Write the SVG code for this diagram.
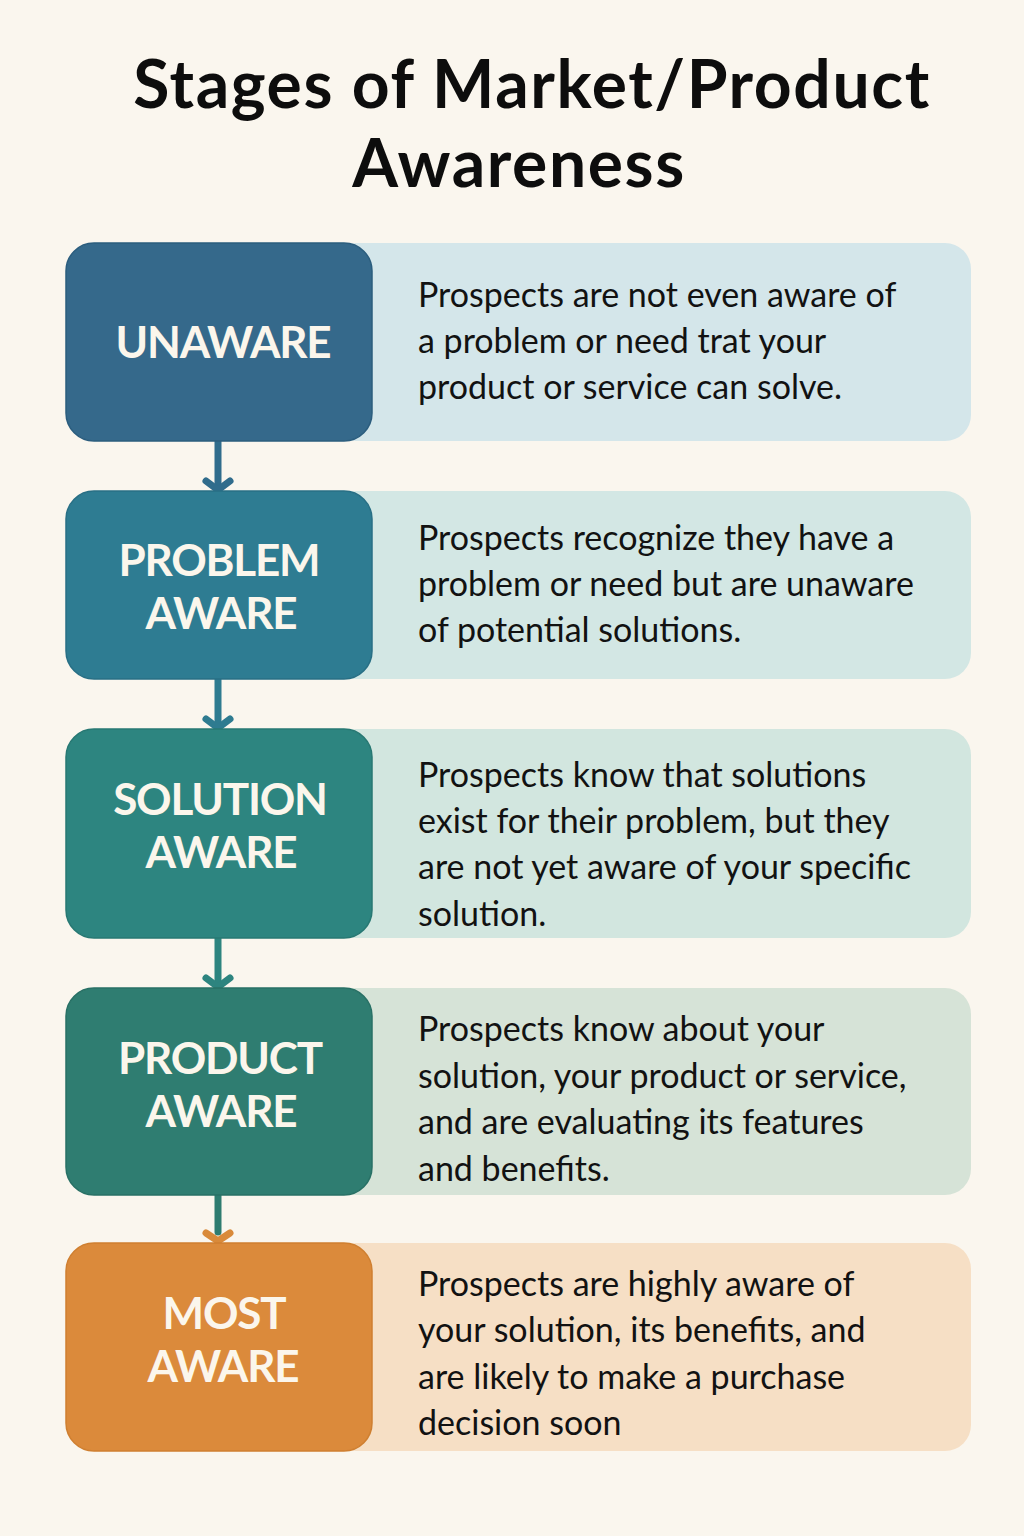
<svg xmlns="http://www.w3.org/2000/svg" width="1024" height="1536" viewBox="0 0 1024 1536">
<style>
.title{font-family:Lato,"Noto Sans",sans-serif;font-weight:700;font-size:66px;letter-spacing:1.6px;fill:#0d0d0d;text-anchor:middle}
.lbl{font-family:Lato,"Noto Sans",sans-serif;font-weight:700;font-size:44px;letter-spacing:-1.2px;fill:#fbf6ec;text-anchor:middle}
.desc{font-family:Lato,"Noto Sans",sans-serif;font-size:34px;fill:#121212}
.box{stroke-width:1.5}
.conn{fill:none;stroke-width:7;stroke-linecap:round;stroke-linejoin:round}
</style>
<rect width="1024" height="1536" fill="#faf6ee"/>
<g id="title">
<text class="title" x="532" y="108">Stages of Market/Product</text>
<text class="title" x="519" y="187">Awareness</text>
</g>
<g id="connectors">
<line class="conn" x1="218" y1="441" x2="218" y2="488" stroke="#306c8c"/>
<polyline class="conn" points="206,481 218,490 230,481" stroke="#306c8c"/>
<line class="conn" x1="218" y1="679" x2="218" y2="726" stroke="#2e7b90"/>
<polyline class="conn" points="206,719 218,728 230,719" stroke="#2e7b90"/>
<line class="conn" x1="218" y1="938" x2="218" y2="985" stroke="#2d847f"/>
<polyline class="conn" points="206,978 218,987 230,978" stroke="#2d847f"/>
<line class="conn" x1="218" y1="1195" x2="218" y2="1232" stroke="#2e7c70"/>
<polyline class="conn" points="206,1233 218,1241 230,1233" stroke="#d98a3a"/>
</g>
<g id="unaware">
<rect x="330" y="243" width="641" height="198" rx="26" fill="#d4e6ea"/>
<rect class="box" x="66" y="243" width="306" height="198" rx="28" fill="#35698b" stroke="#2b5d7e"/>
<text class="lbl" x="223" y="358">UNAWARE</text>
<text class="desc"><tspan x="418" y="307">Prospects are not even aware of</tspan><tspan x="418" y="353">a problem or need trat your</tspan><tspan x="418" y="399">product or service can solve.</tspan></text>
</g>
<g id="problem-aware">
<rect x="330" y="491" width="641" height="188" rx="26" fill="#d3e7e4"/>
<rect class="box" x="66" y="491" width="306" height="188" rx="28" fill="#2e7c92" stroke="#286f85"/>
<text class="lbl" x="219" y="576">PROBLEM</text>
<text class="lbl" x="221" y="629">AWARE</text>
<text class="desc"><tspan x="418" y="550">Prospects recognize they have a</tspan><tspan x="418" y="596">problem or need but are unaware</tspan><tspan x="418" y="642">of potential solutions.</tspan></text>
</g>
<g id="solution-aware">
<rect x="330" y="729" width="641" height="209" rx="26" fill="#d2e6df"/>
<rect class="box" x="66" y="729" width="306" height="209" rx="28" fill="#2d8580" stroke="#277873"/>
<text class="lbl" x="220" y="815">SOLUTION</text>
<text class="lbl" x="221" y="868">AWARE</text>
<text class="desc"><tspan x="418" y="787">Prospects know that solutions</tspan><tspan x="418" y="833">exist for their problem, but they</tspan><tspan x="418" y="879">are not yet aware of your specific</tspan><tspan x="418" y="926">solution.</tspan></text>
</g>
<g id="product-aware">
<rect x="330" y="988" width="641" height="207" rx="26" fill="#d6e3d7"/>
<rect class="box" x="66" y="988" width="306" height="207" rx="28" fill="#2f7d71" stroke="#287065"/>
<text class="lbl" x="220" y="1074">PRODUCT</text>
<text class="lbl" x="221" y="1127">AWARE</text>
<text class="desc"><tspan x="418" y="1041">Prospects know about your</tspan><tspan x="418" y="1088">solution, your product or service,</tspan><tspan x="418" y="1134">and are evaluating its features</tspan><tspan x="418" y="1181">and benefits.</tspan></text>
</g>
<g id="most-aware">
<rect x="330" y="1243" width="641" height="208" rx="26" fill="#f6dfc5"/>
<rect class="box" x="66" y="1243" width="306" height="208" rx="28" fill="#db8a3b" stroke="#cf7f30"/>
<text class="lbl" x="224" y="1329">MOST</text>
<text class="lbl" x="223" y="1382">AWARE</text>
<text class="desc"><tspan x="418" y="1296">Prospects are highly aware of</tspan><tspan x="418" y="1342">your solution, its benefits, and</tspan><tspan x="418" y="1389">are likely to make a purchase</tspan><tspan x="418" y="1435">decision soon</tspan></text>
</g>
</svg>
